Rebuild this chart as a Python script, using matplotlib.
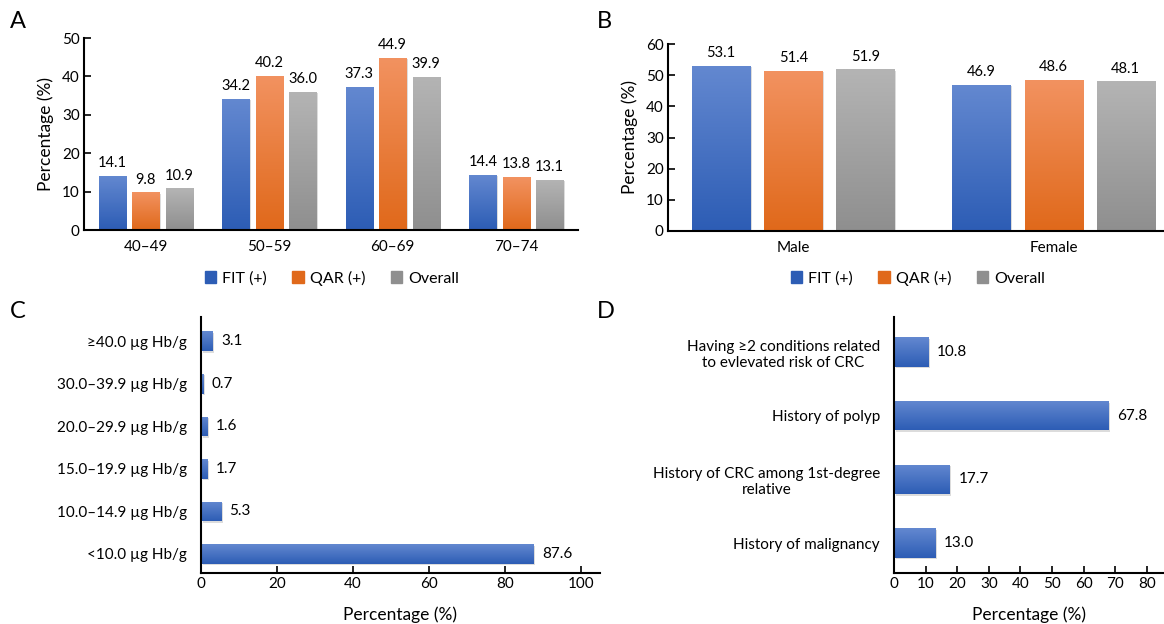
import numpy as np
import matplotlib
matplotlib.use('Agg')
import matplotlib.pyplot as plt
from matplotlib.colors import LinearSegmentedColormap
from matplotlib.transforms import ScaledTranslation

plt.rcParams['font.family'] = ['Lato', 'DejaVu Sans']
plt.rcParams['axes.linewidth'] = 1.5

# data
age_groups = ['40–49', '50–59', '60–69', '70–74']
age_fit = [14.1, 34.2, 37.3, 14.4]
age_qar = [9.8, 40.2, 44.9, 13.8]
age_all = [10.9, 36.0, 39.9, 13.1]

sex_groups = ['Male', 'Female']
sex_fit = [53.1, 46.9]
sex_qar = [51.4, 48.6]
sex_all = [51.9, 48.1]

fit_levels = ['<10.0 µg Hb/g', '10.0–14.9 µg Hb/g', '15.0–19.9 µg Hb/g',
              '20.0–29.9 µg Hb/g', '30.0–39.9 µg Hb/g', '≥40.0 µg Hb/g']
fit_pct = [87.6, 5.3, 1.7, 1.6, 0.7, 3.1]

risk_labels = ['History of malignancy', 'History of CRC among 1st-degree\nrelative',
               'History of polyp', 'Having ≥2 conditions related\nto evlevated risk of CRC']
risk_pct = [13.0, 17.7, 67.8, 10.8]

series_names = ['FIT (+)', 'QAR (+)', 'Overall']
# (top colour, bottom colour)
cols = {'FIT (+)': ('#6388d0', '#2d5db5'),
        'QAR (+)': ('#f29260', '#e0691b'),
        'Overall': ('#b4b4b4', '#8f8f8f')}

W, H = 1164, 624
fig = plt.figure(figsize=(W / 100, H / 100), dpi=100)


def px_axes(l, t, r, b):
    return fig.add_axes([l / W, 1 - b / H, (r - l) / W, (b - t) / H])


def shade(ax, bars, top, bot):
    cmap = LinearSegmentedColormap.from_list('g', [bot, top])
    grad = np.linspace(0, 1, 64).reshape(-1, 1)
    off = ax.transData + ScaledTranslation(1.5 / 100, -1.5 / 100, fig.dpi_scale_trans)
    for b in bars:
        x, y = b.get_xy()
        w, h = b.get_width(), b.get_height()
        # faint drop shadow
        ax.add_patch(plt.Rectangle((x, y), w, h, facecolor='#dcdcdc', edgecolor='none',
                                   transform=off, zorder=1, clip_on=True))
        im = ax.imshow(grad, extent=[x, x + w, y, y + h], origin='lower', cmap=cmap,
                       aspect='auto', zorder=2, interpolation='bilinear')
        im.set_clip_path(b)


def style(ax):
    for s in ['top', 'right']:
        ax.spines[s].set_visible(False)
    ax.spines['left'].set_zorder(5)
    ax.spines['bottom'].set_zorder(5)


def grouped(ax, cats, series, width, step, ylim, yticks, legend_x):
    x = np.arange(len(cats))
    for i, (name, vals) in enumerate(zip(series_names, series)):
        bars = ax.bar(x + (i - 1) * step, vals, width, color=cols[name][1], label=name, zorder=2)
        shade(ax, bars, *cols[name])
        for xi, v in zip(x + (i - 1) * step, vals):
            ax.annotate(f'{v:.1f}', (xi, v), xytext=(0, 4), textcoords='offset points',
                        ha='center', va='bottom', fontsize=10.5)
    ax.set_ylim(*ylim)
    ax.set_yticks(yticks)
    ax.set_xticks(x)
    ax.set_xticklabels(cats)
    ax.tick_params(axis='x', length=0, pad=7, labelsize=11)
    ax.tick_params(axis='y', direction='in', length=5, width=1.2, pad=3, labelsize=11)
    ax.set_ylabel('Percentage (%)', fontsize=12.5, labelpad=6)
    style(ax)
    handles = [plt.Rectangle((0, 0), 1, 1, color=cols[n][1]) for n in series_names]
    fig.legend(handles, series_names, loc='center', bbox_to_anchor=(legend_x / W, 1 - 278 / H),
               ncol=3, frameon=False, fontsize=11.5, handlelength=0.7, handleheight=0.7,
               handletextpad=0.4, columnspacing=1.6)


# panel A
axA = px_axes(84, 38, 578, 230)
grouped(axA, age_groups, [age_fit, age_qar, age_all], 0.219, 0.271, (0, 50),
        range(0, 51, 10), 332)
axA.set_xlim(-0.5, 3.5)

# panel B
axB = px_axes(668, 44, 1163, 231)
grouped(axB, sex_groups, [sex_fit, sex_qar, sex_all], 0.223, 0.277, (0, 60),
        range(0, 61, 10), 918)
axB.set_xlim(-0.481, 1.42)


def horiz(ax, labels, vals, xlim, xticks, height, ylim, label_gap):
    y = np.arange(len(labels))
    bars = ax.barh(y, vals, height, color=cols['FIT (+)'][1], zorder=2)
    shade(ax, bars, *cols['FIT (+)'])
    for yi, v in zip(y, vals):
        ax.annotate(f'{v:.1f}', (v, yi), xytext=(label_gap, 0), textcoords='offset points',
                    ha='left', va='center', fontsize=11)
    ax.set_yticks(y)
    ax.set_yticklabels(labels)
    ax.set_xlim(*xlim)
    ax.set_ylim(*ylim)
    ax.set_xticks(xticks)
    ax.tick_params(axis='y', length=0, pad=10, labelsize=11)
    ax.tick_params(axis='x', direction='in', length=5, width=1.2, pad=3, labelsize=11)
    ax.set_xlabel('Percentage (%)', fontsize=12.5, labelpad=11)
    style(ax)


# panel C
axC = px_axes(201, 317, 600, 573)
horiz(axC, fit_levels, fit_pct, (0, 105), range(0, 101, 20), 0.46, (-0.45, 5.57), 6)

# panel D
axD = px_axes(894, 317, 1164, 573)
horiz(axD, risk_labels, risk_pct, (0, 85.4), range(0, 81, 10), 0.46, (-0.47, 3.55), 6)
for t in axD.get_yticklabels():
    t.set_multialignment('center')

for lab, (x, y) in zip('ABCD', [(10, 22), (597, 22), (10, 312), (597, 312)]):
    fig.text(x / W, 1 - y / H, lab, fontsize=17, va='center', ha='left')

fig.savefig('out.png', dpi=100)
